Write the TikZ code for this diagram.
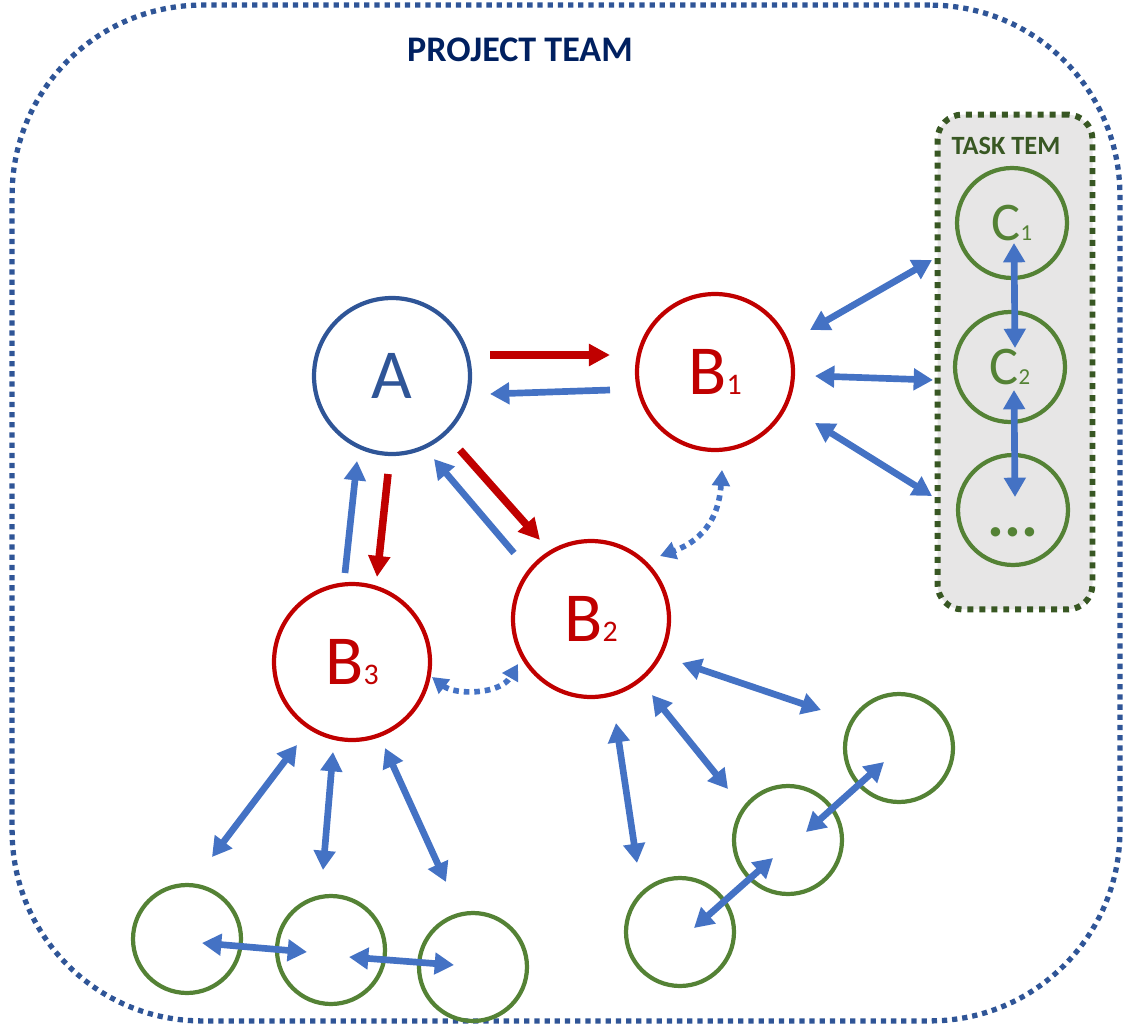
\documentclass[tikz,border=0pt]{standalone}
\usepackage{fontspec}
\setmainfont{Carlito}
\usetikzlibrary{arrows.meta}

\definecolor{teamnavy}{RGB}{0,32,96}
\definecolor{frameblue}{RGB}{47,85,151}
\definecolor{leadred}{RGB}{192,0,0}
\definecolor{linkblue}{RGB}{68,114,196}
\definecolor{membergreen}{RGB}{84,130,53}
\definecolor{taskgreen}{RGB}{56,87,35}
\definecolor{taskgray}{RGB}{231,230,230}

\newcommand{\bsub}[1]{{\fontsize{17pt}{17pt}\selectfont #1}}
\newcommand{\csub}[1]{{\fontsize{13pt}{13pt}\selectfont #1}}

\begin{document}
\begin{tikzpicture}[
    x=0.02cm, y=-0.02cm,
    team_frame/.style={rectangle, draw=frameblue, line width=3pt, dash pattern=on 3pt off 2.8pt, rounded corners=3.8cm, minimum width=22.16cm, minimum height=20.32cm},
    task_box/.style={rectangle, draw=taskgreen, fill=taskgray, line width=3.4pt, dash pattern=on 3.4pt off 3.4pt, rounded corners=0.5cm, minimum width=3.1cm, minimum height=9.9cm},
    lead_node/.style={circle, draw=frameblue, text=frameblue, line width=2.4pt, minimum size=3.12cm, inner sep=0pt, font=\fontsize{40pt}{40pt}\selectfont},
    sub_node/.style={lead_node, draw=leadred, text=leadred},
    task_member/.style={circle, draw=membergreen, text=membergreen, line width=2.4pt, minimum size=2.2cm, inner sep=0pt, font=\fontsize{31pt}{31pt}\selectfont},
    member/.style={circle, draw=membergreen, line width=2.4pt, minimum size=2.16cm, inner sep=0pt},
    red_arrow/.style={-{Triangle[length=12pt, width=12pt]}, draw=leadred, line width=4.3pt},
    blue_arrow/.style={-{Triangle[length=11pt, width=12pt]}, draw=linkblue, line width=3.8pt},
    both_arrow/.style={{Triangle[length=11pt, width=12pt]}-{Triangle[length=11pt, width=12pt]}, draw=linkblue, line width=3.8pt},
    dotted_link/.style={{Triangle[length=9pt, width=10pt]}-{Triangle[length=9pt, width=10pt]}, draw=linkblue, line width=3.2pt, dash pattern=on 3.2pt off 2.8pt}
]
\useasboundingbox (0,0) rectangle (1125,1027);

% Project team boundary
\node[team_frame] (team) at (566,513) {};
\node[font=\fontsize{20.5pt}{20.5pt}\selectfont\bfseries, text=teamnavy] (team_title) at (520,50) {PROJECT TEAM};

% Task team
\node[task_box] (task) at (1015,362) {};
\node[font=\fontsize{15pt}{15pt}\selectfont\bfseries, text=taskgreen] (task_title) at (1006,146) {TASK TEM};
\node[task_member] (C1) at (1012,223) {C\csub{1}};
\node[task_member] (C2) at (1010,367) {C\csub{2}};
\node[task_member] (C3) at (1013,510) {\rule{0pt}{30pt}\fontsize{36pt}{36pt}\selectfont\textbf{...}};

% Leader and sub-leaders
\node[lead_node] (A) at (392,376) {A};
\node[sub_node] (B1) at (715,372) {B\bsub{1}};
\node[sub_node] (B2) at (591,619) {B\bsub{2}};
\node[sub_node] (B3) at (352,662) {B\bsub{3}};

% Members
\node[member] (m31) at (187,939) {};
\node[member] (m32) at (331,950) {};
\node[member] (m33) at (473,967) {};
\node[member] (m21) at (680,932) {};
\node[member] (m22) at (788,840) {};
\node[member] (m23) at (899,748) {};

% A and the B's
\draw[red_arrow] ([shift={(98,-21)}]A.center) -- ([shift={(-105,-17)}]B1.center);
\draw[blue_arrow] ([shift={(-105,18)}]B1.center) -- ([shift={(98,18)}]A.center);
\draw[red_arrow] ([shift={(68,74)}]A.center) -- ([shift={(-51,-79)}]B2.center);
\draw[blue_arrow] ([shift={(-77,-66)}]B2.center) -- ([shift={(42,83)}]A.center);
\draw[red_arrow] ([shift={(-4,98)}]A.center) -- ([shift={(25,-85)}]B3.center);
\draw[blue_arrow] ([shift={(-7,-89)}]B3.center) -- ([shift={(-35,85)}]A.center);

% Between the B's
\draw[dotted_link] ([shift={(7,98)}]B1.center) .. controls (718,530) and (690,545) .. ([shift={(69,-63)}]B2.center);
\draw[dotted_link] ([shift={(80,15)}]B3.center) .. controls (455,695) and (500,695) .. ([shift={(-73,45)}]B2.center);

% B1 and the task team
\draw[both_arrow] ([shift={(95,-42)}]B1.center) -- ([shift={(-80,37)}]C1.center);
\draw[both_arrow] ([shift={(100,4)}]B1.center) -- ([shift={(-77,13)}]C2.center);
\draw[both_arrow] ([shift={(100,51)}]B1.center) -- ([shift={(-81,-14)}]C3.center);
\draw[both_arrow] ([shift={(2,20)}]C1.center) -- ([shift={(5,-19)}]C2.center);
\draw[both_arrow] ([shift={(4,23)}]C2.center) -- ([shift={(2,-13)}]C3.center);

% B3 and its members
\draw[both_arrow] ([shift={(-55,83)}]B3.center) -- ([shift={(25,-82)}]m31.center);
\draw[both_arrow] ([shift={(-19,90)}]B3.center) -- ([shift={(-8,-80)}]m32.center);
\draw[both_arrow] ([shift={(33,86)}]B3.center) -- ([shift={(-27,-85)}]m33.center);
\draw[both_arrow] ([shift={(15,4)}]m31.center) -- ([shift={(-24,2)}]m32.center);
\draw[both_arrow] ([shift={(18,7)}]m32.center) -- ([shift={(-19,-2)}]m33.center);

% B2 and its members
\draw[both_arrow] ([shift={(25,104)}]B2.center) -- ([shift={(-43,-69)}]m21.center);
\draw[both_arrow] ([shift={(61,76)}]B2.center) -- ([shift={(-60,-51)}]m22.center);
\draw[both_arrow] ([shift={(91,44)}]B2.center) -- ([shift={(-78,-38)}]m23.center);
\draw[both_arrow] ([shift={(14,-4)}]m21.center) -- ([shift={(-15,18)}]m22.center);
\draw[both_arrow] ([shift={(18,-8)}]m22.center) -- ([shift={(-15,14)}]m23.center);

\end{tikzpicture}
\end{document}
